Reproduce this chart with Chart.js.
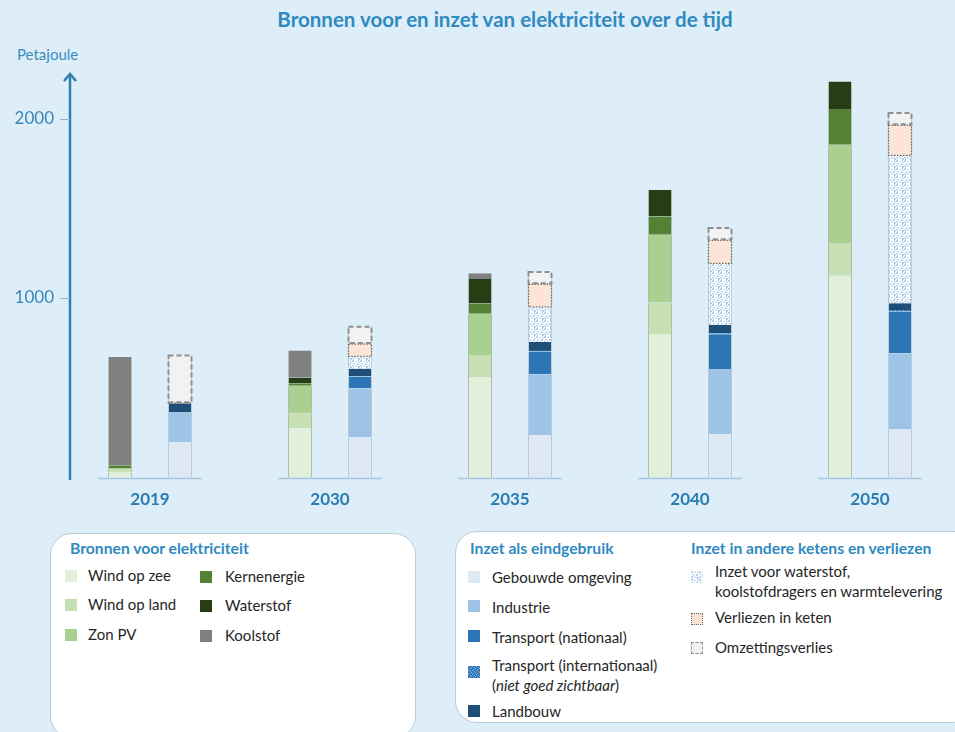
<!DOCTYPE html>
<html>
<head>
<meta charset="utf-8">
<script src="https://cdn.jsdelivr.net/npm/chart.js@4.4.1/dist/chart.umd.min.js"></script>
<style>
  html, body { margin:0; padding:0; width:955px; height:732px; overflow:hidden; background:#ddeef8; font-family: Lato, "Open Sans", sans-serif; }
  #wrap { position:absolute; left:0; top:0; width:960px; height:520px; }
  #title { position:absolute; left:0; width:1010px; top:7px; text-align:center; font-weight:bold; font-size:20.5px; color:#2f8ac0; }
  #unit { position:absolute; left:17px; top:45px; font-size:15px; color:#3b8dc0; }
  .box { position:absolute; background:#fff; border:1.5px solid #bccbd8; border-radius:22px; box-sizing:border-box; }
  .lt { position:absolute; font-weight:bold; font-size:15.7px; color:#2f8ac0; white-space:nowrap; line-height:18px; }
  .li { position:absolute; font-size:15px; color:#262626; white-space:nowrap; line-height:19px; }
  .sw { position:absolute; width:12px; height:12px; box-sizing:border-box; }
</style>
</head>
<body>
<div id="title">Bronnen voor en inzet van elektriciteit over de tijd</div>
<div id="unit">Petajoule</div>
<div id="wrap"><canvas id="c"></canvas></div>

<div class="box" style="left:50px; top:533px; width:366px; height:205px;"></div>
<div class="box" style="left:455px; top:531px; width:520px; height:192px;"></div>
<div id="legend"></div>

<script>
// ---- data (Petajoule) ----
const categories = ['2019', '2030', '2035', '2040', '2050'];
const yTicks = [1000, 2000];

// Bronnen voor elektriciteit
const windOpZee   = [25, 272, 559, 799, 1123];
const windOpLand  = [15, 84, 118, 175, 179];
const zonPV       = [10, 154, 235, 378, 553];
const kernenergie = [15, 13, 58, 102, 199];
const waterstof   = [0, 32, 136, 149, 154];
const koolstof    = [605, 151, 32, 0, 0];

// Inzet als eindgebruik
const gebouwdeOmgeving = [196, 222, 235, 240, 266];
const industrie        = [163, 274, 339, 363, 425];
const transportNat     = [3, 64, 126, 194, 233];
const transportInt     = [0, 2, 4, 5, 8];
const landbouw         = [48, 43, 50, 47, 38];
// Inzet in andere ketens en verliezen
const inzetWaterstof   = [0, 66, 193, 341, 823];
const verliezenKeten   = [5, 74, 132, 134, 173];
const omzettingsverlies= [266, 97, 69, 69, 69];

// ---- patterns ----
function makePatternCanvas(bg, dot, pts, size) {
  const c = document.createElement('canvas');
  c.width = size; c.height = size;
  const g = c.getContext('2d');
  g.fillStyle = bg; g.fillRect(0, 0, size, size);
  g.fillStyle = dot;
  pts.forEach(p => g.fillRect(p[0], p[1], p[2] || 1, p[3] || 1));
  return c;
}
const specklePts = [[0,0,2,2],[3,1,2,1],[6,0,1,2],[1,3,2,1],[5,3,2,2],[3,4,1,2],[0,5,2,1],[1,6,1,2],[4,6,2,1],[6,6,2,2],[7,2,1,1]];
const inzetCanvas = makePatternCanvas('#ffffff', '#b3d0ee', specklePts, 8);
const intlCanvas = makePatternCanvas('#2e75b6', '#8db8e4', [[0,0],[2,1],[1,3],[3,2]], 4);
const ctx0 = document.createElement('canvas').getContext('2d');
const inzetPattern = ctx0.createPattern(inzetCanvas, 'repeat');
const intlPattern = ctx0.createPattern(intlCanvas, 'repeat');

const sideBorder = { left: 1, right: 1, top: 0, bottom: 0 };
function ds(label, data, color, stack, extra) {
  return Object.assign({
    label, data, backgroundColor: color, stack,
    borderWidth: sideBorder, borderColor: stack === 'bronnen' ? '#b3bcb0' : '#bccad6',
    borderSkipped: false
  }, extra || {});
}

const datasets = [
  ds('Wind op zee', windOpZee, '#e2efda', 'bronnen'),
  ds('Wind op land', windOpLand, '#c6e0b4', 'bronnen'),
  ds('Zon PV', zonPV, '#a9d08e', 'bronnen'),
  ds('Kernenergie', kernenergie, '#548235', 'bronnen'),
  ds('Waterstof', waterstof, '#283d16', 'bronnen'),
  ds('Koolstof', koolstof, '#808080', 'bronnen'),
  ds('Gebouwde omgeving', gebouwdeOmgeving, '#dfe9f4', 'inzet'),
  ds('Industrie', industrie, '#9dc3e6', 'inzet'),
  ds('Transport (nationaal)', transportNat, '#2e75b6', 'inzet'),
  ds('Transport (internationaal)', transportInt, intlPattern, 'inzet'),
  ds('Landbouw', landbouw, '#1f4e79', 'inzet'),
  ds('Inzet voor waterstof, koolstofdragers en warmtelevering', inzetWaterstof, inzetPattern, 'inzet'),
  ds('Verliezen in keten', verliezenKeten, '#fce4d6', 'inzet', { dashBorder: [1.5, 1.5], dashColor: '#6b6b6b', dashWidth: 1.3 }),
  ds('Omzettingsverlies', omzettingsverlies, '#f2f2f2', 'inzet', { dashBorder: [5, 3], dashColor: '#8f8f8f', dashWidth: 2 })
];

const decorPlugin = {
  id: 'decor',
  beforeDatasetsDraw(chart) {
    const { ctx, chartArea, scales } = chart;
    const xs = scales.x, ys = scales.y;
    const y0 = ys.getPixelForValue(0);
    ctx.save();
    ctx.strokeStyle = '#a9c6de'; ctx.lineWidth = 1.5;
    categories.forEach((c, i) => {
      const cx = xs.getPixelForValue(i);
      ctx.beginPath(); ctx.moveTo(cx - 52, y0 + 1.5); ctx.lineTo(cx + 52, y0 + 1.5); ctx.stroke();
    });
    const ax = chartArea.left + 10;
    ctx.strokeStyle = '#2e7fae'; ctx.lineWidth = 2.5;
    ctx.beginPath(); ctx.moveTo(ax, y0 + 3); ctx.lineTo(ax, chartArea.top); ctx.stroke();
    ctx.beginPath(); ctx.moveTo(ax - 6, chartArea.top + 7); ctx.lineTo(ax, chartArea.top); ctx.lineTo(ax + 6, chartArea.top + 7); ctx.stroke();
    ctx.strokeStyle = '#8fb2dd'; ctx.lineWidth = 1;
    yTicks.forEach(v => {
      const py = Math.round(ys.getPixelForValue(v)) + 0.5;
      ctx.beginPath(); ctx.moveTo(ax - 10, py); ctx.lineTo(ax, py); ctx.stroke();
    });
    ctx.restore();
  },
  afterDatasetsDraw(chart) {
    const { ctx } = chart;
    chart.data.datasets.forEach((d, i) => {
      if (!d.dashBorder) return;
      const meta = chart.getDatasetMeta(i);
      meta.data.forEach((el, j) => {
        if (!d.data[j]) return;
        const p = el.getProps(['x', 'y', 'base', 'width'], true);
        const top = Math.min(p.y, p.base), h = Math.abs(p.base - p.y);
        ctx.save();
        ctx.setLineDash(d.dashBorder);
        ctx.strokeStyle = d.dashColor; ctx.lineWidth = d.dashWidth;
        ctx.strokeRect(p.x - p.width / 2 + 0.5, top + 0.5, p.width - 1, h - 1);
        ctx.restore();
      });
    });
  }
};

new Chart(document.getElementById('c'), {
  type: 'bar',
  data: { labels: categories, datasets },
  options: {
    responsive: true, maintainAspectRatio: false, animation: false,
    layout: { padding: { top: 74, left: 0, right: 0, bottom: 0 } },
    categoryPercentage: 0.6667, barPercentage: 0.4,
    plugins: { legend: { display: false }, tooltip: { enabled: false }, title: { display: false } },
    scales: {
      x: {
        stacked: true,
        grid: { display: false }, border: { display: false },
        ticks: { color: '#2b7db3', font: { family: 'Lato', size: 17, weight: 'bold' }, padding: 4 },
        afterFit: s => { s.height = 43; }
      },
      y: {
        stacked: true, min: 0, max: 2250,
        afterBuildTicks: s => { s.ticks = yTicks.map(v => ({ value: v })); },
        grid: { display: false, tickLength: 0 }, border: { display: false },
        ticks: { color: '#3b86b6', font: { family: 'Lato', size: 17 }, padding: 6, callback: v => String(v) },
        afterFit: s => { s.width = 60; }
      }
    }
  },
  plugins: [decorPlugin]
});

// ---- HTML legend ----
const legend = document.getElementById('legend');
function addTitle(text, x, y) {
  const d = document.createElement('div'); d.className = 'lt'; d.textContent = text;
  d.style.left = x + 'px'; d.style.top = (y - 9) + 'px'; legend.appendChild(d);
}
function addItem(html, x, y, swX, swY, style) {
  const s = document.createElement('div'); s.className = 'sw';
  s.style.left = swX + 'px'; s.style.top = (swY - 6) + 'px';
  Object.assign(s.style, style); legend.appendChild(s);
  const t = document.createElement('div'); t.className = 'li'; t.innerHTML = html;
  t.style.left = x + 'px'; t.style.top = (y - 10) + 'px'; legend.appendChild(t);
}
addTitle('Bronnen voor elektriciteit', 70, 548);
addItem('Wind op zee', 88, 576, 65, 576, { background: '#e2efda' });
addItem('Wind op land', 88, 605, 65, 605, { background: '#c6e0b4' });
addItem('Zon PV', 88, 635, 65, 635, { background: '#a9d08e' });
addItem('Kernenergie', 225, 577, 200, 577, { background: '#548235' });
addItem('Waterstof', 225, 606, 200, 606, { background: '#283d16' });
addItem('Koolstof', 225, 636, 200, 636, { background: '#808080' });

addTitle('Inzet als eindgebruik', 470, 548);
addItem('Gebouwde omgeving', 492, 578, 468, 577, { background: '#dfe9f4' });
addItem('Industrie', 492, 608, 468, 606, { background: '#9dc3e6' });
addItem('Transport (nationaal)', 492, 638, 468, 636, { background: '#2e75b6' });
addItem('Transport (internationaal)<br>(<i>niet goed zichtbaar</i>)', 492, 666, 468, 672,
  { backgroundImage: 'url(' + intlCanvas.toDataURL() + ')' });
addItem('Landbouw', 492, 712, 468, 711, { background: '#1f4e79' });

addTitle('Inzet in andere ketens en verliezen', 691, 548);
addItem('Inzet voor waterstof,<br>koolstofdragers en warmtelevering', 715, 572, 691, 577,
  { backgroundImage: 'url(' + inzetCanvas.toDataURL() + ')' });
addItem('Verliezen in keten', 715, 618, 691, 619, { background: '#fce4d6', border: '1px dotted #6b6b6b' });
addItem('Omzettingsverlies', 715, 648, 691, 648, { background: '#f2f2f2', border: '1.5px dashed #8f8f8f' });
document.querySelectorAll('.li').forEach(e => { if (e.innerHTML.includes('<br>')) e.style.lineHeight = '19.5px'; });
</script>
</body>
</html>
